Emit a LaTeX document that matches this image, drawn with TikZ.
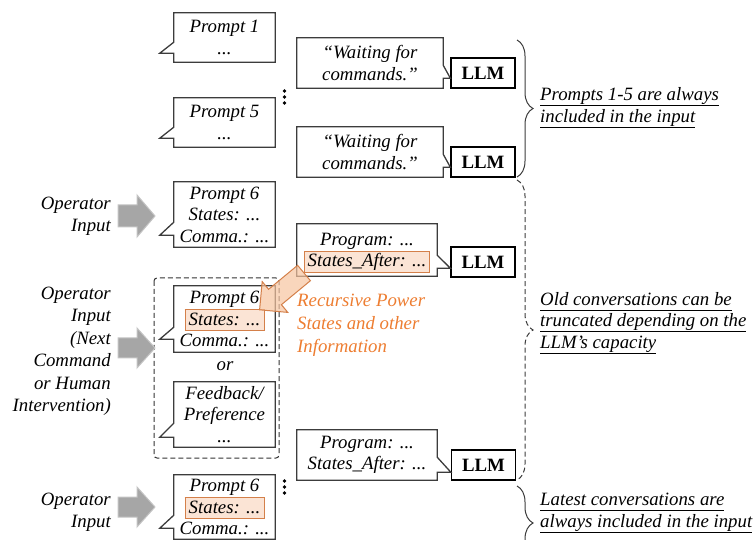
\documentclass[tikz,border=0pt]{standalone}
\usepackage{fontspec}
\setmainfont{Liberation Serif}
\usetikzlibrary{calc,decorations.pathreplacing}
\definecolor{hlfill}{RGB}{251,228,213}
\definecolor{hlborder}{RGB}{212,128,74}
\definecolor{orangetxt}{RGB}{237,125,49}
\definecolor{arrowfill}{RGB}{166,166,166}
\definecolor{arrowdraw}{RGB}{196,196,196}
\definecolor{boxline}{RGB}{60,60,60}
\definecolor{orangearrow}{RGB}{246,196,160}

\newcommand{\hl}[2]{\smash{\setlength{\fboxsep}{0pt}\setlength{\fboxrule}{1pt}\fcolorbox{hlborder}{hlfill}{\makebox[#1]{\rule[-5pt]{0pt}{20pt}#2}}}}
\newcommand{\myul}[1]{\setbox0\hbox{#1}\rlap{\rule[-5.5pt]{\wd0}{0.9pt}}\box0}

% left-tailed callout outline: name, upper tail offset, tip offset (from bottom)
\newcommand{\leftcall}[3]{%
  \draw[outline] (#1.north west) -- (#1.north east) -- (#1.south east) -- (#1.south west)
    -- ($(#1.south west)+(0,-#3)$) -- ($(#1.south west)+(-14,-#3)$)
    -- ($(#1.south west)+(0,-#2)$) -- cycle;}
% right-tailed callout outline: name, llm name, upper tail offset, tip offset
\newcommand{\rightcall}[4]{%
  \coordinate (tmpA) at ($(#1.south east)+(0,-#4)$);
  \draw[outline] (#1.north west) -- (#1.north east) -- ($(#1.south east)+(0,-#3)$)
    -- (tmpA -| #2.west) -- (tmpA) -- (#1.south east) -- (#1.south west) -- cycle;}

\tikzset{
  txt/.style={font=\fontsize{18.8}{21.5}\selectfont\itshape, align=center, inner sep=0pt},
  bubble/.style={txt, minimum width=101pt},
  wide/.style={txt, minimum width=146pt, minimum height=50pt},
  llmbox/.style={draw=black, line width=1.3pt, font=\fontsize{18.8}{21.5}\selectfont\bfseries,
    minimum width=64pt, minimum height=30pt, inner sep=0pt},
  outline/.style={draw=boxline, line width=1.3pt, line join=miter},
  bracedeco/.style={draw=boxline, line width=1pt, decorate, decoration={brace, amplitude=16pt}},
  grayarr/.style={fill=arrowfill, draw=arrowdraw, line width=1pt},
  dashedline/.style={dash pattern=on 5pt off 3pt},
  side/.style={txt, align=left, anchor=west},
  optext/.style={txt, align=right, anchor=east, font=\fontsize{18.8}{22.5}\selectfont\itshape},
  dot/.style={circle, fill=black, inner sep=0pt, minimum size=3.6pt}
}

\begin{document}
\begin{tikzpicture}[x=1pt, y=-1pt]
\useasboundingbox (0,0) rectangle (756,540);
\clip (0,0) rectangle (756,540);

% ---------- prompts 1-5 ----------
\node[bubble, minimum height=49pt] (p1) at (224.5,37.5) {Prompt 1\\...};
\node[bubble, minimum height=49pt] (p5) at (224.5,122.5) {Prompt 5\\...};
\leftcall{p1}{20}{9}
\leftcall{p5}{20}{9}

\node[llmbox] (l1) at (483,73) {LLM};
\node[llmbox] (l2) at (483,162) {LLM};
\node[wide] (w1) at (370,63) {“Waiting for\\commands.”};
\node[wide] (w2) at (370,152) {“Waiting for\\commands.”};
\rightcall{w1}{l1}{23}{10}
\rightcall{w2}{l2}{23}{10}

\node[dot] (d1) at (284.5,91) {};
\node[dot] (d2) at (284.5,97) {};
\node[dot] (d3) at (284.5,103) {};

% ---------- prompt 6 (first) ----------
\node[optext] (op1) at (111,216.5) {Operator\\Input};
\draw[grayarr, shift={(136.5,216)}] (-18.5,-11) -- (0.5,-11) -- (0.5,-21) -- (18.5,0) -- (0.5,21) -- (0.5,11) -- (-18.5,11) -- cycle;
\node[bubble, minimum height=65pt] (p6a) at (224.5,214.5) {Prompt 6\\States: ...\\Comma.: ...};
\leftcall{p6a}{25}{12}

\node[llmbox] (l3) at (483,262) {LLM};
\node[txt, minimum width=140pt, minimum height=52pt] (g1) at (367,250)
  {Program: ...\\\hl{124pt}{States\_After: ...}};
\rightcall{g1}{l3}{21}{8}

% ---------- dashed group ----------
\draw[draw=black!80, line width=1pt, dashedline, rounded corners=3pt] (154,278) rectangle (279,458);
\node[optext] (op2) at (111,351.5) {Operator\\Input\\(Next\\Command\\or Human\\Intervention)};
\draw[grayarr, shift={(136.5,348)}] (-18.5,-10) -- (0.5,-10) -- (0.5,-20) -- (18.5,0) -- (0.5,20) -- (0.5,10) -- (-18.5,10) -- cycle;
\node[bubble, minimum height=66pt] (p6b) at (224.5,319) {Prompt 6\\\hl{78pt}{States: ...}\\Comma.: ...};
\leftcall{p6b}{25}{13}
\node[txt] (or) at (225,366) {or};
\node[bubble, minimum height=65pt] (fb) at (224.5,414.5) {Feedback/\\Preference\\...};
\leftcall{fb}{24}{10}

% ---------- program 2 ----------
\node[llmbox] (l4) at (483.5,465) {LLM};
\node[txt, minimum width=140pt, minimum height=50pt] (g2) at (367,455) {Program: ...\\States\_After: ...};
\rightcall{g2}{l4}{23}{8}

% ---------- prompt 6 (last) ----------
\node[optext] (op3) at (111,512.5) {Operator\\Input};
\draw[grayarr, shift={(136.5,507)}] (-18.5,-10) -- (0.5,-10) -- (0.5,-20) -- (18.5,0) -- (0.5,20) -- (0.5,10) -- (-18.5,10) -- cycle;
\node[bubble, minimum height=64pt] (p6c) at (224.5,507) {Prompt 6\\\hl{78pt}{States: ...}\\Comma.: ...};
\leftcall{p6c}{24}{11}
\node[dot] (d4) at (284.5,481) {};
\node[dot] (d5) at (284.5,487) {};
\node[dot] (d6) at (284.5,493) {};

% ---------- orange arrow ----------
\draw[fill=orangearrow, fill opacity=0.7, draw=hlborder, line width=1pt, line join=miter]
  (297.6,265.3) -- (310.4,280.7) -- (281.4,304.7) -- (287.8,312.4) -- (259.6,309.8)
  -- (262.2,281.6) -- (268.6,289.3) -- cycle;
\node[side, text=orangetxt, font=\fontsize{18.8}{23}\selectfont\itshape] (rec) at (297,325)
  {Recursive Power\\States and other\\Information};

% ---------- braces ----------
\draw[bracedeco] (517,40) -- (517,177);
\draw[bracedeco, dashedline] (517,180) -- (517,480);
\draw[bracedeco] (517,486) -- (517,560);

\node[side] (t1) at (540,107.5) {\myul{Prompts 1-5 are always}\\\myul{included in the input}};
\node[side] (t2) at (540,323) {\myul{Old conversations can be}\\\myul{truncated depending on the}\\\myul{LLM’s capacity}};
\node[side] (t3) at (540,513) {\myul{Latest conversations are}\\\myul{always included in the input}};
\end{tikzpicture}
\end{document}
